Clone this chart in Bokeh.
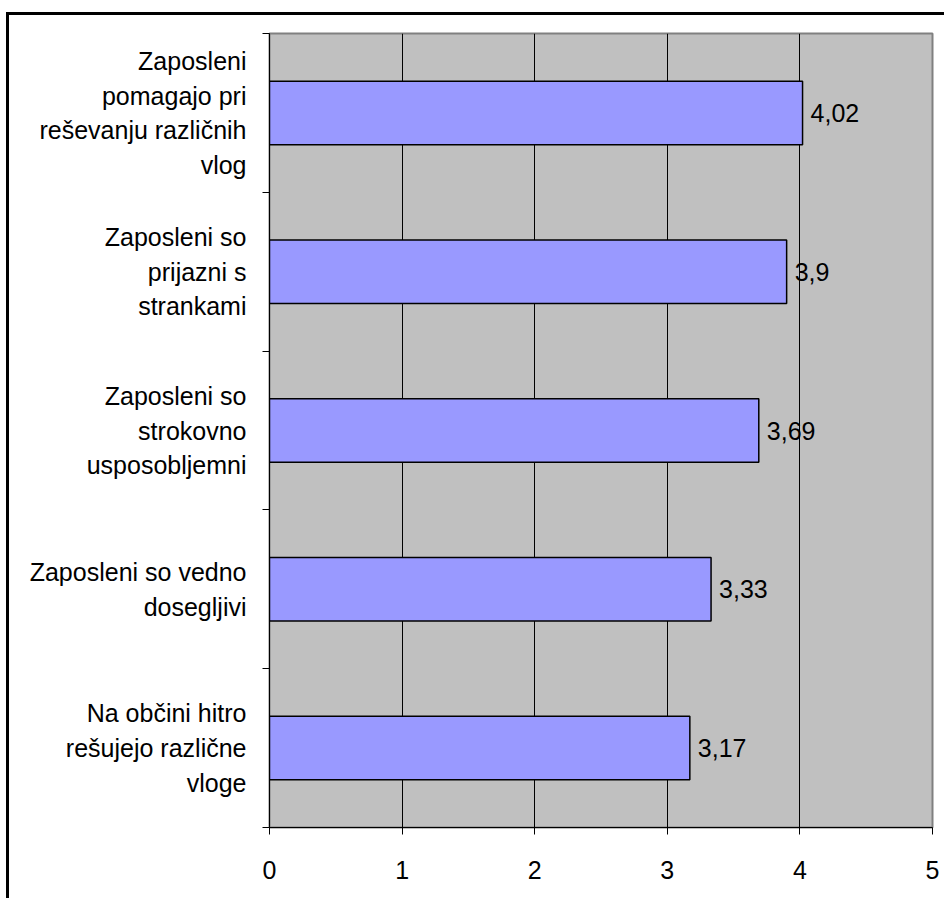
from bokeh.plotting import figure
from bokeh.models import (FactorRange, Range1d, LinearAxis, CategoricalAxis, FixedTicker,
                          ColumnDataSource, CustomLabelingPolicy)
from bokeh.embed import file_html
from bokeh.resources import INLINE
from bokeh.core.properties import value

categories = [
    "Zaposleni\npomagajo pri\nreševanju različnih\nvlog",
    "Zaposleni so\nprijazni s\nstrankami",
    "Zaposleni so\nstrokovno\nusposobljemni",
    "Zaposleni so vedno\ndosegljivi",
    "Na občini hitro\nrešujejo različne\nvloge",
]
values = [4.02, 3.9, 3.69, 3.33, 3.17]
x_ticks = [0, 1, 2, 3, 4, 5]
value_labels = [str(v).replace(".", ",") for v in values]

FONT = "Liberation Sans"
FS = 25

src = ColumnDataSource(dict(cat=categories, val=values, lab=value_labels))

factors = list(reversed(categories))
p = figure(
    width=938, height=886,
    y_range=FactorRange(*factors),
    x_range=Range1d(0, 5),
    output_backend="svg", toolbar_location=None,
    y_axis_location=None,
    min_border_left=260, min_border_top=18, min_border_right=15, min_border_bottom=74,
)
p.styles = {"border-left": "3px solid black", "border-top": "3px solid black",
            "margin-top": "12px", "margin-left": "6px"}

p.background_fill_color = "#C0C0C0"
p.border_fill_color = "white"
p.outline_line_color = "#808080"
p.outline_line_width = 2

no_labels = CustomLabelingPolicy(code="""
if (typeof indices.unset === "function") {
  for (let i = 0; i < indices.size; i++) indices.unset(i);
  return indices;
}
if (typeof indices.clear === "function") { indices.clear(); return indices; }
return [];
""")

# boundary ticks between categories (synthetic coordinates 0..5 of the factor range)
tick_ax = LinearAxis(ticker=FixedTicker(ticks=list(range(len(categories) + 1))),
                     major_tick_out=7, major_tick_in=0, minor_tick_line_color=None,
                     major_label_text_font_size="1px", major_label_standoff=0,
                     major_label_policy=no_labels,
                     axis_line_color="black", major_tick_line_color="black")
p.add_layout(tick_ax, "left")

cat_ax = CategoricalAxis(axis_line_color=None, major_tick_line_color=None,
                         minor_tick_line_color=None,
                         major_label_text_font=FONT, major_label_text_font_size=f"{FS}px",
                         major_label_text_color="black",
                         major_label_text_line_height=1.24,
                         major_label_standoff=6)
p.add_layout(cat_ax, "left")

p.xaxis.ticker = FixedTicker(ticks=x_ticks)
p.xaxis.major_tick_out = 7
p.xaxis.major_tick_in = 0
p.xaxis.minor_tick_line_color = None
p.xaxis.axis_line_color = "black"
p.xaxis.major_label_text_font = FONT
p.xaxis.major_label_text_font_size = f"{FS}px"
p.xaxis.major_label_text_color = "black"
p.xaxis.major_label_standoff = 26

p.xgrid.ticker = FixedTicker(ticks=[1, 2, 3, 4])
p.xgrid.grid_line_color = "black"
p.xgrid.grid_line_width = 1
p.ygrid.grid_line_color = None

p.hbar(y="cat", right="val", left=0, height=0.4, source=src,
       fill_color="#9999FF", line_color="black", line_width=1.5)

p.text(x="val", y="cat", text="lab", source=src, x_offset=8,
       text_align="left", text_baseline="middle",
       text_font=value(FONT), text_font_size=f"{FS}px", text_color="black")

open("out.html", "w").write(file_html(p, INLINE))
